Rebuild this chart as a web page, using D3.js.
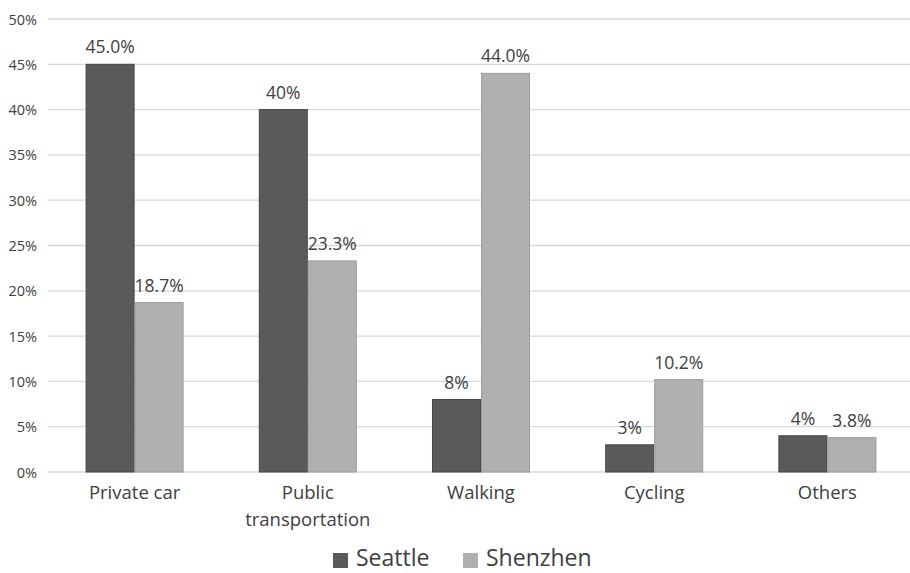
<!DOCTYPE html>
<html>
<head>
<meta charset="utf-8">
<script src="https://cdn.jsdelivr.net/npm/d3@7"></script>
<style>
  html, body { margin: 0; padding: 0; background: #fff; }
  svg text { font-family: "Open Sans", "Noto Sans", sans-serif; fill: #404040; }
</style>
</head>
<body>
<svg id="chart" width="910" height="573"></svg>
<script>
// Travel mode share by city
const categories = ["Private car", "Public transportation", "Walking", "Cycling", "Others"];
const seriesNames = ["Seattle", "Shenzhen"];
const seattle = [45.0, 40, 8, 3, 4];
const shenzhen = [18.7, 23.3, 44.0, 10.2, 3.8];
const seattleLabels = ["45.0%", "40%", "8%", "3%", "4%"];
const shenzhenLabels = ["18.7%", "23.3%", "44.0%", "10.2%", "3.8%"];
const yTicks = [0, 5, 10, 15, 20, 25, 30, 35, 40, 45, 50];

const colors = { Seattle: "#5a5a5a", Shenzhen: "#b0b0b0" };
const strokes = { Seattle: "#474747", Shenzhen: "#9c9c9c" };

const svg = d3.select("#chart");
const plotLeft = 48, plotRight = 914, plotTop = 19, plotBottom = 472;

const x = d3.scaleBand().domain(categories).range([plotLeft, plotRight])
  .paddingInner(0.434).paddingOuter(0.217);
const xs = d3.scaleBand().domain(seriesNames).range([0, x.bandwidth()]);
const y = d3.scaleLinear().domain([0, 50]).range([plotBottom, plotTop]);

// gridlines
svg.append("g").selectAll("line").data(yTicks).join("line")
  .attr("x1", plotLeft).attr("x2", 910)
  .attr("y1", d => y(d)).attr("y2", d => y(d))
  .attr("stroke", "#d9d9d9").attr("stroke-width", 1.3);

// y axis labels
const yAxis = d3.axisLeft(y).tickValues(yTicks).tickFormat(d => d + "%").tickSize(0).tickPadding(0);
const yg = svg.append("g").attr("transform", "translate(37,0)").call(yAxis);
yg.select(".domain").remove();
yg.selectAll("text").attr("font-size", 14.5).attr("fill", "#404040")
  .style("font-family", "'Open Sans', sans-serif").attr("dy", "0.35em");

const rows = categories.map((c, i) => ({
  cat: c,
  vals: [
    { s: "Seattle", v: seattle[i], label: seattleLabels[i] },
    { s: "Shenzhen", v: shenzhen[i], label: shenzhenLabels[i] }
  ]
}));

const groups = svg.append("g").selectAll("g").data(rows).join("g")
  .attr("transform", d => `translate(${x(d.cat)},0)`);

groups.selectAll("rect").data(d => d.vals).join("rect")
  .attr("x", d => xs(d.s) + 0.5)
  .attr("width", xs.bandwidth() - 1)
  .attr("y", d => y(d.v))
  .attr("height", d => y(0) - y(d.v))
  .attr("fill", d => colors[d.s])
  .attr("stroke", d => strokes[d.s]).attr("stroke-width", 1);

groups.selectAll("text.val").data(d => d.vals).join("text")
  .attr("class", "val")
  .attr("x", d => xs(d.s) + xs.bandwidth() / 2)
  .attr("y", d => y(d.v) - 11)
  .attr("text-anchor", "middle")
  .attr("font-size", 17.5)
  .text(d => d.label);

// category labels (wrapped)
const catWrap = { "Public transportation": ["Public", "transportation"] };
const xg = svg.append("g");
categories.forEach(c => {
  const lines = catWrap[c] || [c];
  const t = xg.append("text")
    .attr("x", x(c) + x.bandwidth() / 2)
    .attr("y", 499)
    .attr("text-anchor", "middle")
    .attr("font-size", 18.5);
  lines.forEach((ln, i) => {
    t.append("tspan").attr("x", x(c) + x.bandwidth() / 2)
      .attr("dy", i === 0 ? 0 : 27).text(ln);
  });
});

// legend
const legendItems = [
  { s: "Seattle", x: 333, tx: 356 },
  { s: "Shenzhen", x: 463, tx: 486 }
];
const lg = svg.append("g");
legendItems.forEach(it => {
  lg.append("rect").attr("x", it.x).attr("y", 553).attr("width", 15).attr("height", 15)
    .attr("fill", colors[it.s]);
  lg.append("text").attr("x", it.tx).attr("y", 566).attr("font-size", 23).text(it.s);
});
</script>
</body>
</html>
